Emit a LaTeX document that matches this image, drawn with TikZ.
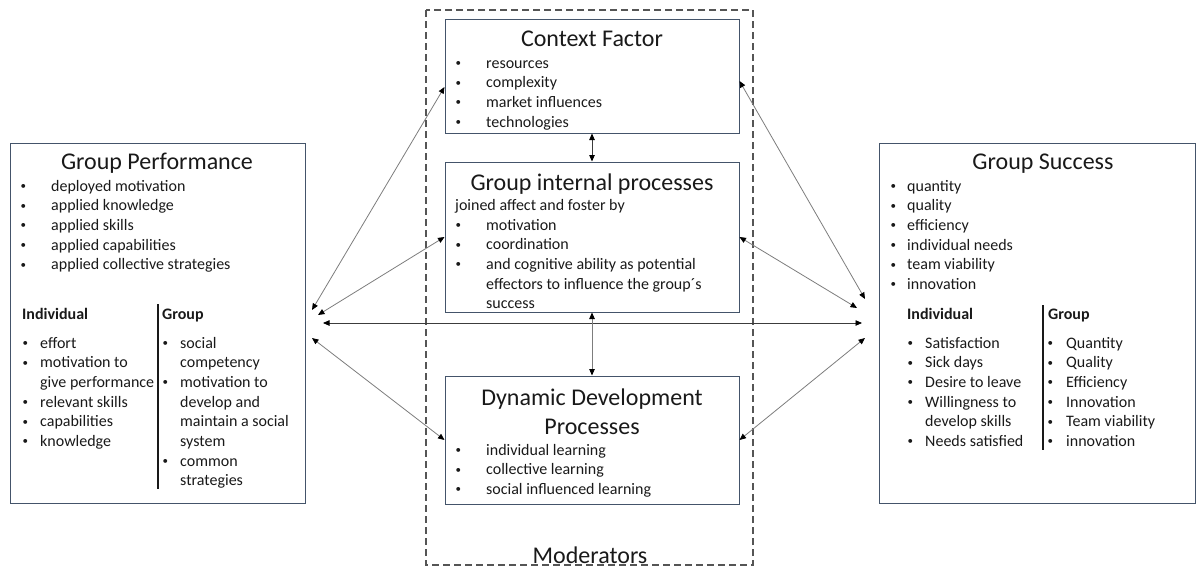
\documentclass[tikz,border=0pt]{standalone}
\usepackage{fontspec}
\setmainfont{Carlito}
\usetikzlibrary{arrows.meta,calc}
\definecolor{boxline}{RGB}{68,84,106}
\definecolor{ink}{RGB}{25,25,25}
\definecolor{arrowgray}{RGB}{125,125,125}
\definecolor{arrowdark}{RGB}{60,60,60}
\definecolor{dashgray}{RGB}{85,85,85}
% small bullet hung to the left of the item text
\newcommand\itembul[1]{\llap{\raisebox{1.6pt}{\fontsize{11}{11}\selectfont\textbullet}\hspace{#1}}}

\begin{document}
\begin{tikzpicture}[x=1pt,y=-1pt,
  panel/.style={draw=boxline, line width=1pt, inner sep=0pt},
  txt/.style={anchor=base west, inner sep=0pt, text=ink, font=\fontsize{16}{19.7}\selectfont},
  hdr/.style={anchor=base west, inner sep=0pt, text=ink, font=\fontsize{16}{19.7}\selectfont\bfseries},
  ttl/.style={anchor=base, inner sep=0pt, text=ink, font=\fontsize{24}{29}\selectfont},
  link/.style={draw=arrowgray, line width=0.8pt, {Triangle[length=6.5pt,width=5.5pt,color=black]}-{Triangle[length=6.5pt,width=5.5pt,color=black]}},
  sep/.style={draw=ink, line width=1.2pt},
]
\useasboundingbox (0,0) rectangle (1203,568);

% moderators frame
\draw[dashgray, line width=1.3pt, dash pattern=on 7pt off 4pt] (426,10) rectangle (753,565);
\node[ttl] (moderators) at (590,563) {Moderators};

% panels
\node[panel, minimum width=295pt, minimum height=360pt] (gp) at (157.5,323) {};
\node[panel, minimum width=316pt, minimum height=360pt] (gs) at (1037,323) {};
\node[panel, minimum width=294pt, minimum height=114pt] (ctx) at (592,76) {};
\node[panel, minimum width=294pt, minimum height=150pt] (gip) at (592,237) {};
\node[panel, minimum width=294pt, minimum height=128pt] (ddp) at (592,440) {};

% Group Performance
\node[ttl] (gp-title) at (157,169) {Group Performance};
\foreach \t [count=\i from 0] in {deployed motivation, applied knowledge, applied skills, applied capabilities, applied collective strategies}
  \node[txt] (gp-a\i) at (51,{191+\i*19.7}) {\itembul{25pt}\t};
\node[hdr] (gp-ind) at (22,319) {Individual};
\node[hdr] (gp-grp) at (162,319) {Group};
\draw[sep] (158,304) -- (158,489);
\foreach \t [count=\i from 0] in {\itembul{12pt}effort, \itembul{12pt}motivation to, give performance, \itembul{12pt}relevant skills, \itembul{12pt}capabilities, \itembul{12pt}knowledge}
  \node[txt] (gp-b\i) at (40,{348+\i*19.7}) {\t};
\foreach \t [count=\i from 0] in {\itembul{12pt}social, competency, \itembul{12pt}motivation to, develop and, maintain a social, system, \itembul{12pt}common, strategies}
  \node[txt] (gp-c\i) at (180,{348+\i*19.7}) {\t};

% Group Success
\node[ttl] (gs-title) at (1043,169) {Group Success};
\foreach \t [count=\i from 0] in {quantity, quality, efficiency, individual needs, team viability, innovation}
  \node[txt] (gs-a\i) at (907,{191+\i*19.7}) {\itembul{11pt}\t};
\node[hdr] (gs-ind) at (907,319) {Individual};
\node[hdr] (gs-grp) at (1048,319) {Group};
\draw[sep] (1043,305) -- (1043,450);
\foreach \t [count=\i from 0] in {\itembul{12pt}Satisfaction, \itembul{12pt}Sick days, \itembul{12pt}Desire to leave, \itembul{12pt}Willingness to, develop skills, \itembul{12pt}Needs satisfied}
  \node[txt] (gs-b\i) at (925,{348+\i*19.7}) {\t};
\foreach \t [count=\i from 0] in {Quantity, Quality, Efficiency, Innovation, Team viability, innovation}
  \node[txt] (gs-c\i) at (1066,{348+\i*19.7}) {\itembul{13pt}\t};

% Context Factor
\node[ttl] (ctx-title) at (592,46.5) {Context Factor};
\foreach \t [count=\i from 0] in {resources, complexity, market influences, technologies}
  \node[txt] (ctx-\i) at (486,{68+\i*19.7}) {\itembul{25pt}\t};

% Group internal processes
\node[ttl] (gip-title) at (592,190) {Group internal processes};
\node[txt] (gip-lead) at (455,210) {joined affect and foster by};
\foreach \t [count=\i from 0] in {\itembul{25pt}motivation, \itembul{25pt}coordination, \itembul{25pt}and cognitive ability as potential, effectors to influence the group´s, success}
  \node[txt] (gip-\i) at (486,{230+\i*19.7}) {\t};

% Dynamic Development Processes
\node[ttl] (ddp-title1) at (592,405) {Dynamic Development};
\node[ttl] (ddp-title2) at (592,434) {Processes};
\foreach \t [count=\i from 0] in {individual learning, collective learning, social influenced learning}
  \node[txt] (ddp-\i) at (486,{455+\i*19.7}) {\itembul{25pt}\t};

% free ends of the connectors beside the outer panels
\coordinate (pL1) at (312,310);
\coordinate (pL2) at (318,315);
\coordinate (pL3) at (323,323);
\coordinate (pL4) at (312,338);
\coordinate (pR1) at (865,299);
\coordinate (pR2) at (857,308);
\coordinate (pR3) at (862,323);
\coordinate (pR4) at (865,338);

% connectors
\draw[link] (pL1) -- ([yshift=-11pt]ctx.west);
\draw[link] (pL2) -- (gip.west);
\draw[link] (pL4) -- (ddp.west);
\draw[link] (pR1) -- ([yshift=-5pt]ctx.east);
\draw[link] (pR2) -- (gip.east);
\draw[link] (pR4) -- (ddp.east);
\draw[link, draw=arrowdark] (pL3) -- (pR3);
\draw[link, draw=arrowdark] (ctx.south) -- (gip.north);
\draw[link] (gip.south) -- (ddp.north);
\end{tikzpicture}
\end{document}
